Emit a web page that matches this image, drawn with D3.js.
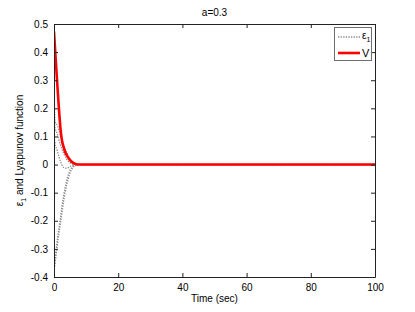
<!DOCTYPE html>
<html><head><meta charset="utf-8">
<script src="https://cdn.jsdelivr.net/npm/d3@7"></script>
<style>
body{margin:0;background:#fff;}
text{font-family:"Liberation Sans",Arial,Helvetica,sans-serif;}
</style></head>
<body><svg id="c" width="415" height="312"></svg>
<script>
// ---- data ----
const xTicks = [0,20,40,60,80,100];
const yTicks = [-0.4,-0.3,-0.2,-0.1,0,0.1,0.2,0.3,0.4,0.5];
const yTickLabels = ["-0.4","-0.3","-0.2","-0.1","0","0.1","0.2","0.3","0.4","0.5"];
const epsTimes = [0,0.25,1,2,3,4,5,6,7,8,100];
const eps1 = [0.42,0.155,0.14,0.105,0.07,0.042,0.02,0.006,0.001,0,0];
const eps2 = [0.3,0.135,0.11,0.07,0.04,0.018,0.006,0.001,0,0,0];
const eps3 = [0.2,0.08,0.05,0.012,-0.01,-0.013,-0.007,-0.002,0,0,0];
const eps4 = [-0.38,-0.36,-0.29,-0.21,-0.13,-0.07,-0.03,-0.009,-0.001,0,0];
const eps5 = [-0.36,-0.34,-0.27,-0.19,-0.11,-0.055,-0.02,-0.005,0,0,0];
const vTimes = [0,0.5,1,1.5,2,2.5,3,3.5,4,5,6,7,8,100];
const vValues = [0.473,0.38,0.29,0.205,0.13,0.085,0.062,0.044,0.033,0.016,0.006,0.001,0,0];
const titleText = "a=0.3";
const xLabel = "Time (sec)";

// ---- layout ----
const L=54, R=375, T=24, B=277;
const svg = d3.select("#c");
const x = d3.scaleLinear().domain([0,100]).range([L,R]);
const y = d3.scaleLinear().domain([-0.4,0.5]).range([B,T]);

svg.append("defs").append("clipPath").attr("id","clip")
  .append("rect").attr("x",L).attr("y",T).attr("width",R-L).attr("height",B-T);

const line = d3.line().x(d=>x(d[0])).y(d=>y(d[1])).curve(d3.curveMonotoneX);
const g = svg.append("g").attr("clip-path","url(#clip)");
[eps1,eps2,eps3,eps4,eps5].forEach(s=>{
  g.append("path").attr("d", line(epsTimes.map((t,i)=>[t,s[i]])))
   .attr("fill","none").attr("stroke","#8a8a8a").attr("stroke-width",1.3)
   .attr("stroke-dasharray","1.3,1.3");
});
g.append("path").attr("d", line(vTimes.map((t,i)=>[t,vValues[i]])))
 .attr("fill","none").attr("stroke","#ff0000").attr("stroke-width",2.6);

// axes box
const axCol="#222";
const ax = svg.append("g");
ax.append("g").attr("transform",`translate(0,${B})`)
  .call(d3.axisBottom(x).tickValues(xTicks).tickSizeInner(-4).tickSizeOuter(0).tickPadding(7).tickFormat(d3.format("d")));
ax.append("g").attr("transform",`translate(0,${T})`)
  .call(d3.axisTop(x).tickValues(xTicks).tickSizeInner(-4).tickSizeOuter(0).tickFormat(""));
ax.append("g").attr("transform",`translate(${L},0)`)
  .call(d3.axisLeft(y).tickValues(yTicks).tickSizeInner(-4).tickSizeOuter(0).tickPadding(6).tickFormat((d,i)=>yTickLabels[i]));
ax.append("g").attr("transform",`translate(${R},0)`)
  .call(d3.axisRight(y).tickValues(yTicks).tickSizeInner(-4).tickSizeOuter(0).tickFormat(""));
ax.selectAll(".domain").attr("stroke",axCol).attr("stroke-width",1);
ax.selectAll(".tick line").attr("stroke",axCol);
ax.selectAll(".tick text").attr("font-size",10).attr("fill","#000")
  .attr("font-family",'"Liberation Sans",Arial,sans-serif');

// title & labels
svg.append("text").attr("x",(L+R)/2).attr("y",16).attr("text-anchor","middle")
  .attr("font-size",10).text(titleText);
svg.append("text").attr("x",(L+R)/2).attr("y",302).attr("text-anchor","middle")
  .attr("font-size",10).text(xLabel);
const yl = svg.append("text").attr("transform",`translate(23,${(T+B)/2}) rotate(-90)`)
  .attr("text-anchor","middle").attr("font-size",10);
yl.append("tspan").text("ε");
yl.append("tspan").attr("font-size",7).attr("dy",2.5).text("1");
yl.append("tspan").attr("dy",-2.5).text(" and Lyapunov function");

// legend
const lg = svg.append("g");
lg.append("rect").attr("x",334.5).attr("y",27.5).attr("width",37).attr("height",33)
  .attr("fill","#fff").attr("stroke","#6e6e6e").attr("stroke-width",1);
lg.append("line").attr("x1",338).attr("x2",360).attr("y1",37).attr("y2",37)
  .attr("stroke","#8a8a8a").attr("stroke-width",1.3).attr("stroke-dasharray","1.3,1.3");
const lt = lg.append("text").attr("x",362).attr("y",39).attr("font-size",10);
lt.append("tspan").text("ε");
lt.append("tspan").attr("font-size",7).attr("dy",2.5).text("1");
lg.append("line").attr("x1",338).attr("x2",360).attr("y1",53).attr("y2",53)
  .attr("stroke","#ff0000").attr("stroke-width",2.6);
lg.append("text").attr("x",362).attr("y",57).attr("font-size",11).text("V");
</script></body></html>
